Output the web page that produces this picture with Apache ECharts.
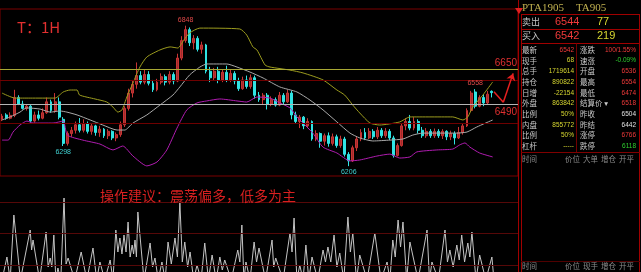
<!DOCTYPE html>
<html><head><meta charset="utf-8">
<script src="https://cdn.jsdelivr.net/npm/echarts/dist/echarts.min.js"></script>
<style>html,body{margin:0;padding:0;background:#000;}#c{width:641px;height:272px;}</style>
</head><body><div id="c"></div>
<script>
// ---- data ----
// candles: [open, close, low, high] (hourly bars)
const candles = [
[6420,6435,6412,6445],[6440,6425,6418,6448],[6425,6438,6420,6452],[6438,6520,6430,6555],[6520,6490,6485,6530],
[6490,6470,6465,6505],[6470,6480,6460,6490],[6480,6412,6405,6485],[6412,6440,6405,6455],[6440,6425,6415,6460],
[6425,6450,6420,6470],[6450,6500,6445,6520],[6500,6460,6450,6510],[6460,6500,6450,6540],[6500,6430,6420,6520],
[6420,6310,6298,6430],[6310,6355,6300,6365],[6355,6370,6340,6385],[6370,6395,6355,6410],[6395,6370,6360,6426],
[6370,6400,6360,6420],[6400,6365,6355,6410],[6365,6390,6350,6400],[6390,6360,6345,6395],[6360,6375,6340,6390],
[6375,6345,6335,6380],[6345,6365,6330,6375],[6365,6335,6325,6370],[6335,6350,6320,6360],[6350,6395,6340,6410],
[6395,6470,6385,6480],[6470,6540,6460,6560],[6540,6580,6520,6600],[6580,6620,6560,6680],[6620,6590,6580,6640],
[6590,6625,6580,6650],[6625,6585,6575,6640],[6585,6555,6545,6600],[6555,6590,6548,6605],[6590,6615,6580,6630],
[6615,6590,6575,6625],[6590,6625,6580,6640],[6625,6595,6580,6635],[6595,6700,6590,6720],[6700,6780,6690,6800],
[6780,6830,6770,6848],[6830,6770,6755,6840],[6770,6790,6740,6805],[6790,6740,6730,6800],[6740,6760,6720,6775],
[6760,6640,6630,6765],[6640,6610,6590,6660],[6610,6640,6595,6655],[6640,6600,6585,6660],[6600,6635,6590,6650],
[6635,6600,6590,6665],[6600,6630,6590,6650],[6630,6595,6580,6640],[6595,6560,6550,6610],[6560,6600,6555,6615],
[6600,6570,6560,6620],[6570,6610,6560,6625],[6610,6530,6515,6620],[6530,6510,6500,6545],[6510,6530,6490,6540],
[6530,6490,6465,6540],[6490,6510,6480,6525],[6510,6485,6478,6520],[6485,6530,6480,6545],[6530,6500,6490,6540],
[6500,6540,6495,6555],[6540,6440,6420,6550],[6440,6410,6400,6455],[6410,6430,6380,6440],[6430,6390,6375,6435],
[6390,6410,6380,6425],[6410,6330,6322,6415],[6330,6355,6320,6370],[6355,6320,6290,6360],[6320,6345,6300,6355],
[6345,6310,6295,6360],[6310,6340,6300,6355],[6340,6300,6290,6350],[6300,6330,6290,6345],[6330,6260,6250,6340],
[6260,6230,6206,6270],[6230,6290,6225,6300],[6290,6330,6275,6340],[6330,6360,6320,6375],[6360,6335,6325,6380],
[6335,6365,6330,6380],[6365,6340,6330,6375],[6340,6370,6330,6385],[6370,6345,6335,6380],[6345,6365,6335,6380],
[6365,6335,6325,6375],[6335,6255,6245,6345],[6255,6300,6250,6310],[6300,6390,6295,6400],[6390,6410,6370,6425],
[6410,6380,6370,6440],[6380,6410,6370,6430],[6410,6370,6355,6420],[6370,6345,6335,6385],[6345,6365,6335,6380],
[6365,6345,6335,6375],[6345,6365,6335,6378],[6365,6345,6335,6375],[6345,6365,6330,6375],[6365,6340,6325,6370],
[6340,6355,6325,6368],[6355,6335,6305,6365],[6335,6360,6330,6385],[6360,6390,6350,6400],[6390,6460,6385,6470],
[6460,6540,6455,6550],[6545,6480,6470,6558],[6480,6520,6475,6530],[6520,6495,6480,6535],[6495,6535,6490,6550],
[6548,6542,6520,6552]
];
const emptySlots = 6;

// Bollinger-type bands: [bar position, price]
const upperBand = [[0,6540],[3.2,6517],[6.9,6517],[13,6517],[15,6545],[16.7,6554],[18.4,6554],[19,6531],[22.8,6513],[25.7,6499],[27.2,6476],[28.4,6453],[29.4,6463],[30.6,6522],[32.1,6586],[33.8,6659],[35.5,6705],[38.7,6737],[41.2,6751],[43.1,6746],[44.6,6783],[46,6815],[48.5,6837],[58.3,6833],[60,6805],[61.5,6751],[62.5,6737],[64.5,6668],[65.7,6659],[70.6,6645],[73.8,6632],[78.7,6600],[82.1,6554],[84,6531],[86,6485],[87.7,6449],[90.2,6403],[92.6,6394],[97.5,6408],[100,6431],[104.9,6431],[110.5,6431],[113,6417],[114.2,6431],[115.4,6476],[117.9,6531],[120.3,6591]];
const midBand = [[0,6417],[2,6431],[4.4,6453],[6,6472],[9.3,6467],[11.8,6453],[14.2,6458],[15.9,6453],[18.4,6440],[21.6,6417],[24.7,6394],[28.2,6371],[30.1,6371],[32.1,6403],[35.5,6440],[38.7,6485],[41.9,6531],[43.6,6568],[46,6623],[48.5,6659],[50.2,6673],[55.1,6673],[57.6,6659],[60.8,6636],[64,6609],[68.1,6568],[72.3,6545],[75.5,6508],[78.7,6463],[82.1,6408],[85.3,6357],[87.7,6335],[90.9,6321],[95.1,6325],[98.3,6330],[100.7,6348],[103.2,6357],[111.5,6357],[114,6362],[116.4,6385],[120.3,6417]];
const lowerBand = [[0,6325],[1.5,6325],[2.7,6362],[4.4,6394],[6.1,6412],[7.6,6403],[12.5,6403],[15,6412],[16,6348],[19.8,6325],[24,6307],[27.2,6280],[29.6,6298],[32.1,6252],[35.5,6207],[38,6225],[40.4,6280],[42.9,6380],[45.3,6463],[47.8,6495],[50.2,6504],[53.4,6513],[57.6,6504],[60,6499],[62.5,6522],[65.7,6517],[68.1,6495],[70.6,6472],[72.3,6431],[73.8,6403],[76.2,6357],[78.7,6293],[82.1,6266],[85.3,6230],[87.7,6234],[91.9,6252],[95.1,6261],[97.5,6243],[100,6248],[101.7,6271],[106.6,6280],[110.5,6284],[112.2,6303],[113.5,6312],[114.7,6293],[117.1,6266],[120.3,6248]];

// lower indicator: positions and values (troughs fall below the panel)
const volT = [0,1.2,2,2.9,4.5,6.9,7.25,7.6,9.2,10.8,11.3,11.8,12.2,12.7,13.2,13.7,14.4,15.2,15.7,16.2,17.8,19.4,20.8,22.3,23.2,24,25.2,26.5,27.2,27.9,28.4,28.9,29.4,29.9,30.4,30.9,31.4,31.9,32.25,32.6,32.95,33.3,34.8,36.3,36.9,37.5,38.3,39.2,40,40.7,41.5,42.4,43,43.6,44.2,44.8,45.5,46.1,47,47.8,48.8,49.7,50.6,51.5,52.5,53.4,54,54.6,56.2,57.8,58.3,58.8,59.3,59.8,60.8,61.8,62.4,63,64.6,66.2,66.6,67.1,68.9,70.6,71.1,71.6,72.3,73,73.8,74.5,75.2,76,77.4,78.7,79.3,79.9,80.6,81.4,82.1,82.8,83.8,84.8,85.4,86,86.9,87.7,89.5,91.4,92.9,94.4,95.1,95.8,96.4,97.1,97.7,98.3,99.2,100,102,104.2,104.8,105.4,107,108.6,109.2,109.8,110.6,111.5,112.1,112.7,113.4,114.2,114.7,115.2,116.2,117.1,118.6,120.1,120.6];
const volV = [-8,15,-8,57,-8,42,22,32,-8,40,5,14,5,37,-8,4,-8,74,8,14,-8,20,-8,24,-8,10,-8,12,-8,42,20,34,18,37,20,50,15,27,18,32,15,60,-8,29,5,14,-8,10,-8,30,8,34,15,70,10,30,5,20,-8,7,-8,29,-8,17,-8,15,2,12,-8,22,10,47,-8,10,-8,30,10,24,-8,32,5,14,-8,39,20,54,-8,7,-8,27,-8,15,-8,22,10,25,10,37,5,19,-8,55,20,39,-8,17,-8,39,-8,10,-8,32,15,52,25,50,-8,30,-8,42,-8,10,-8,42,10,22,5,27,12,37,10,29,15,40,-8,17,-8,15,-8];
const volLevels = [70,39,7];

// key price levels and notes
const resistance = 6650, support = 6490, gridPrices = [6600,6400];
const notes = [{idx:45,side:'high'},{idx:15,side:'low'},{idx:85,side:'low'},{idx:116,side:'high'}];
const arrowPath = [[120.6,6546],[122.9,6498],[125.3,6630]];

// quote panel
const quoteTitle = ['PTA1905','TA905'];
const askRow = ['卖出','6544','77'];
const bidRow = ['买入','6542','219'];
const leftLabels = ['最新','现手','总手','持仓','日增','外盘','比例','内盘','比例','杠杆'];
const leftValues = ['6542','68','1719614','890822','-22154','863842','50%','855772','50%','-----'];
const leftColors = ['r','y','y','y','y','y','y','y','y','y'];
const rightLabels = ['涨跌','速涨','开盘','最高','最低','结算价','昨收','昨结','涨停','跌停'];
const rightValues = ['100/1.55%','-0.09%','6536','6554','6474','6518','6504','6442','6766','6118'];
const rightColors = ['r','g','r','r','r','r','w','w','r','g'];
const tickHeader1 = ['时间','价位','大单','增仓','开平'];
const tickHeader2 = ['时间','价位','现手','增仓','开平'];

// ---- chart ----
const N = candles.length + emptySlots;
const cats = Array.from({length:N}, (_, i) => String(i));
const PX = 160/35;
const P_MAX = resistance + 60*PX, P_MIN = resistance - 107*PX;
const COL = {r:'#f03a3a', y:'#d6d630', g:'#2ed02e', w:'#e0e0e0'};
const cjk = '"Noto Sans CJK SC", "DejaVu Sans", sans-serif';

const markPts = notes.map(n => {
  const c = candles[n.idx];
  const hi = n.side === 'high';
  return {
    coord:[n.idx, hi ? c[3] : c[2]], value: hi ? c[3] : c[2],
    label:{show:true, formatter:String(hi ? c[3] : c[2]), position: hi ? 'top':'bottom', distance:2,
      color: hi ? '#e04848' : '#40d0d0', fontSize:7, fontFamily:'Liberation Sans, sans-serif'}
  };
});

const option = {
  animation:false,
  backgroundColor:'#000',
  grid:[
    {left:0, right:123, top:9, bottom:96, show:true, borderColor:'#7a0000', borderWidth:1, backgroundColor:'transparent'},
    {left:0, right:123, top:176, bottom:0, show:false}
  ],
  xAxis:[
    {type:'category', gridIndex:0, data:cats, show:false, boundaryGap:true},
    {type:'value', gridIndex:1, min:-0.5, max:N-0.5, show:false},
    {type:'value', gridIndex:0, min:-0.5, max:N-0.5, show:false}
  ],
  yAxis:[
    {type:'value', gridIndex:0, min:P_MIN, max:P_MAX, show:false},
    {type:'value', gridIndex:1, min:0, max:96, show:false},
    {type:'value', gridIndex:0, min:P_MIN, max:P_MAX, show:false}
  ],
  series:[
    {type:'candlestick', xAxisIndex:0, yAxisIndex:0, data:candles, barWidth:2.4, z:2,
     itemStyle:{color:'#a02c2c', color0:'#30e4e4', borderColor:'#c83434', borderColor0:'#30e4e4', borderWidth:1},
     markPoint:{symbol:'circle', symbolSize:1, itemStyle:{color:'rgba(0,0,0,0)'}, data:markPts, silent:true},
     markLine:{silent:true, symbol:'none', animation:false, data:[
       {yAxis:gridPrices[0], lineStyle:{color:'#6e0000', width:1, type:'solid'}, label:{show:false}},
       {yAxis:gridPrices[1], lineStyle:{color:'#6e0000', width:1, type:'solid'}, label:{show:false}},
       {yAxis:resistance, lineStyle:{color:'#a8a834', width:1, type:'solid'},
        label:{show:true, formatter:String(resistance), position:'insideEndTop', color:'#e03030', fontSize:10, distance:[1,1], fontFamily:'Liberation Sans, sans-serif'}},
       {yAxis:support, lineStyle:{color:'#b4b4b4', width:1, type:'solid'},
        label:{show:true, formatter:String(support), position:'insideEndBottom', color:'#e03030', fontSize:10, distance:[1,3], fontFamily:'Liberation Sans, sans-serif'}}
     ]}
    },
    {type:'line', xAxisIndex:2, yAxisIndex:2, data:upperBand, symbol:'none', smooth:0.2, z:3,
     lineStyle:{color:'#9c9c1e', width:1}},
    {type:'line', xAxisIndex:2, yAxisIndex:2, data:midBand, symbol:'none', smooth:0.2, z:3,
     lineStyle:{color:'#a8a8a8', width:1}},
    {type:'line', xAxisIndex:2, yAxisIndex:2, data:lowerBand, symbol:'none', smooth:0.2, z:3,
     lineStyle:{color:'#b01cb0', width:1}},
    {type:'line', xAxisIndex:2, yAxisIndex:2, data:arrowPath.slice(0,2), symbol:'none', z:4,
     lineStyle:{color:'#e82020', width:1.5},
     markLine:{silent:true, symbol:['none','arrow'], symbolSize:7, lineStyle:{color:'#e82020', width:1.5, type:'solid'}, label:{show:false},
       data:[[{coord:arrowPath[1]},{coord:arrowPath[2]}]]}},
    {type:'line', xAxisIndex:1, yAxisIndex:1, data:volT.map((t,i)=>[t, volV[i]]), symbol:'none', z:3,
     lineStyle:{color:'#c4c4c4', width:1},
     markLine:{silent:true, symbol:'none', label:{show:false}, lineStyle:{color:'#560808', width:1, type:'solid'},
       data: volLevels.map(v => ({yAxis:v}))}}
  ],
  graphic:[]
};

const g = [];
const txt = (x, y, text, fill, font, align) => g.push({type:'text', silent:true, z:10,
  style:{x:x, y:y, text:text, fill:fill, font:font, textAlign:align||'left', textVerticalAlign:'middle'}});
const ln = (x1,y1,x2,y2,c) => g.push({type:'line', silent:true, z:9, shape:{x1:x1,y1:y1,x2:x2,y2:y2}, style:{stroke:c, lineWidth:1}});

// titles on chart
txt(17, 27, 'T：1H', '#e23030', '15px ' + cjk);
txt(100, 196, '操作建议：震荡偏多，低多为主', '#d82020', '14px ' + cjk);

// panel frame
ln(518.5, 0, 518.5, 272, '#a00000');
ln(521.5, 14, 521.5, 272, '#a00000');
ln(639.5, 14, 639.5, 272, '#a00000');
ln(521, 14.5, 640, 14.5, '#a00000');
ln(521, 29.5, 640, 29.5, '#a00000');
ln(521, 43.5, 640, 43.5, '#a00000');
ln(576.5, 43.5, 576.5, 152, '#700000');
ln(521, 152.5, 640, 152.5, '#800000');
ln(521, 261.5, 640, 261.5, '#500000');
g.push({type:'polygon', silent:true, z:10, shape:{points:[[515,8],[523,8],[519,14]]}, style:{fill:'#e02020'}});

// quote header
txt(522, 8, quoteTitle[0], '#c0b050', '11px "Liberation Serif", serif');
txt(576, 8, quoteTitle[1], '#c0b050', '11px "Liberation Serif", serif');
[askRow, bidRow].forEach((r, k) => {
  const y = 22 + k*14;
  txt(522, y, r[0], '#c8c8c8', '9px ' + cjk);
  txt(555, y, r[1], '#f03a3a', '11px "Liberation Sans", sans-serif');
  txt(597, y, r[2], '#d6d630', '11px "Liberation Sans", sans-serif');
});
leftLabels.forEach((l, k) => {
  const y = 50 + 10.7*k;
  txt(522, y, l, '#c8c8c8', '7.5px ' + cjk);
  txt(574, y, leftValues[k], COL[leftColors[k]], '6.5px "Liberation Sans", sans-serif', 'right');
  txt(580, y, rightLabels[k] + (rightLabels[k] === '结算价' ? ' ▾' : ''), '#c8c8c8', '7.5px ' + cjk);
  txt(636, y, rightValues[k], COL[rightColors[k]], '6.5px "Liberation Sans", sans-serif', 'right');
});
const hx = [522, 565, 583, 601, 619];
tickHeader1.forEach((t, k) => txt(hx[k], 159, t, '#8c8c8c', '7.5px ' + cjk));
tickHeader2.forEach((t, k) => txt(hx[k], 266, t, '#8c8c8c', '7.5px ' + cjk));

option.graphic = g;
const chart = echarts.init(document.getElementById('c'));
chart.setOption(option);
</script>
</body></html>
